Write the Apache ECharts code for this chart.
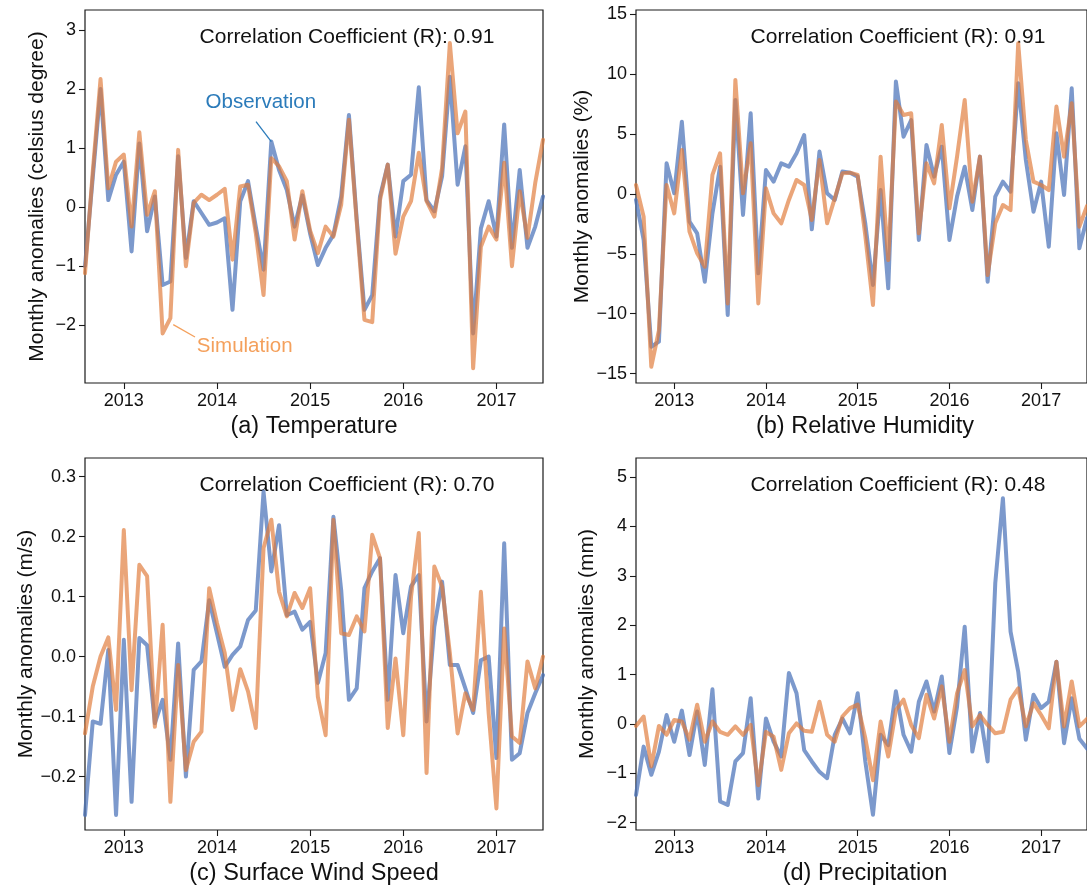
<!DOCTYPE html>
<html>
<head>
<meta charset="utf-8">
<title>Monthly anomalies: observation vs simulation</title>
<script src="https://cdn.jsdelivr.net/npm/echarts@6/dist/echarts.min.js"></script>
<style>
  html, body { margin: 0; padding: 0; background: #fff; }
  #chart { width: 1087px; height: 891px; }
</style>
</head>
<body>
<div id="chart"></div>
<script>
// Monthly time steps, Aug 2012 – Jul 2017
const months = [
  '2012-08','2012-09','2012-10','2012-11','2012-12',
  '2013-01','2013-02','2013-03','2013-04','2013-05','2013-06','2013-07','2013-08','2013-09','2013-10','2013-11','2013-12',
  '2014-01','2014-02','2014-03','2014-04','2014-05','2014-06','2014-07','2014-08','2014-09','2014-10','2014-11','2014-12',
  '2015-01','2015-02','2015-03','2015-04','2015-05','2015-06','2015-07','2015-08','2015-09','2015-10','2015-11','2015-12',
  '2016-01','2016-02','2016-03','2016-04','2016-05','2016-06','2016-07','2016-08','2016-09','2016-10','2016-11','2016-12',
  '2017-01','2017-02','2017-03','2017-04','2017-05','2017-06','2017-07'
];

// (a) Temperature anomalies, °C
const tempObs = [-1.0, 0.5, 2.0, 0.12, 0.55, 0.77, -0.75, 1.08, -0.41, 0.18, -1.32, -1.26, 0.86, -0.86, 0.10, -0.10, -0.30, -0.26, -0.19, -1.74, 0.10, 0.44, -0.33, -1.06, 1.11, 0.63, 0.29, -0.33, 0.20, -0.45, -0.98, -0.69, -0.47, 0.18, 1.56, -0.20, -1.74, -1.49, 0.18, 0.72, -0.50, 0.44, 0.55, 2.03, 0.12, -0.07, 0.52, 2.21, 0.38, 1.03, -2.14, -0.36, 0.10, -0.50, 1.40, -0.69, 0.63, -0.69, -0.33, 0.18];
const tempSim = [-1.12, 0.6, 2.17, 0.32, 0.77, 0.89, -0.33, 1.27, -0.13, 0.27, -2.14, -1.88, 0.97, -1.0, 0.07, 0.21, 0.12, 0.21, 0.31, -0.89, 0.35, 0.38, -0.44, -1.49, 0.83, 0.69, 0.44, -0.55, 0.27, -0.40, -0.78, -0.33, -0.50, 0.04, 1.48, -0.25, -1.91, -1.95, 0.12, 0.72, -0.79, -0.16, 0.10, 0.92, 0.10, -0.16, 0.66, 2.78, 1.25, 1.62, -2.73, -0.67, -0.33, -0.55, 0.75, -1.0, 0.27, -0.52, 0.41, 1.14];

// (b) Relative humidity anomalies, %
const humObs = [-0.5, -3.84, -12.76, -12.34, 2.56, 0.06, 6.04, -2.31, -3.29, -7.33, -1.62, 2.28, -10.11, 7.86, -1.75, 6.74, -6.63, 2.0, 1.03, 2.56, 2.28, 3.40, 4.93, -2.95, 3.54, 0.06, -0.5, 1.87, 1.78, 1.45, -2.5, -7.60, 0.33, -7.88, 9.39, 4.79, 6.18, -3.84, 4.09, 1.45, 3.96, -3.84, -0.22, 2.28, -1.34, 3.12, -7.33, -0.22, 1.03, 0.19, 9.25, 2.84, -1.48, 1.03, -4.40, 5.07, -0.08, 8.83, -4.54, -2.0];
const humSim = [0.75, -1.89, -14.43, -11.4, 0.75, -1.62, 3.68, -3.15, -4.96, -6.07, 1.59, 3.40, -9.14, 9.53, 0.06, 4.23, -9.14, 0.47, -1.62, -2.45, -0.5, 1.17, 0.75, -2.17, 2.84, -2.45, -0.36, 1.73, 1.78, 1.59, -3.5, -9.28, 3.12, -5.52, 7.72, 6.60, 6.74, -3.29, 2.56, 0.89, 5.77, -1.20, 3.12, 7.86, -0.64, 3.12, -6.77, -2.45, -0.92, -1.34, 12.59, 4.51, 1.03, 0.75, 0.33, 7.30, 3.12, 7.58, -2.73, -1.0];

// (c) Surface wind speed anomalies, m/s
const windObs = [-0.264, -0.108, -0.112, 0.011, -0.264, 0.028, -0.242, 0.031, 0.019, -0.111, -0.072, -0.172, 0.022, -0.2, -0.022, -0.008, 0.094, 0.039, -0.017, 0.003, 0.017, 0.061, 0.077, 0.275, 0.142, 0.219, 0.069, 0.075, 0.045, 0.058, -0.044, 0.006, 0.233, 0.111, -0.072, -0.053, 0.114, 0.142, 0.164, -0.072, 0.136, 0.039, 0.117, 0.136, -0.108, 0.05, 0.125, -0.014, -0.014, -0.053, -0.094, -0.006, 0.0, -0.169, 0.189, -0.172, -0.161, -0.094, -0.061, -0.031];
const windSim = [-0.128, -0.05, 0.0, 0.032, -0.089, 0.211, -0.056, 0.153, 0.134, -0.117, 0.053, -0.242, -0.014, -0.189, -0.142, -0.125, 0.114, 0.056, 0.006, -0.089, -0.021, -0.058, -0.119, 0.181, 0.228, 0.108, 0.067, 0.106, 0.081, 0.114, -0.067, -0.131, 0.228, 0.039, 0.036, 0.067, 0.042, 0.203, 0.164, -0.119, -0.003, -0.131, 0.1, 0.206, -0.194, 0.15, 0.117, 0.006, -0.128, -0.061, -0.089, 0.108, -0.094, -0.253, 0.047, -0.133, -0.144, -0.008, -0.053, 0.0];

// (d) Precipitation anomalies, mm
const precObs = [-1.44, -0.46, -1.03, -0.56, 0.18, -0.36, 0.27, -0.63, 0.25, -0.83, 0.70, -1.57, -1.64, -0.76, -0.59, 0.52, -1.51, 0.11, -0.36, -0.66, 1.03, 0.62, -0.53, -0.76, -0.97, -1.10, -0.22, 0.11, -0.19, 0.62, -0.76, -1.84, -0.22, -0.43, 0.66, -0.22, -0.56, 0.45, 0.86, 0.25, 0.96, -0.59, 0.35, 1.97, -0.56, 0.22, -0.76, 2.85, 4.57, 1.87, 1.06, -0.32, 0.59, 0.32, 0.45, 1.26, -0.39, 0.52, -0.3, -0.5];
const precSim = [-0.04, 0.15, -0.86, -0.04, -0.22, 0.08, 0.05, -0.32, 0.39, -0.36, 0.05, -0.16, -0.22, -0.05, -0.22, -0.02, -1.24, -0.16, -0.26, -0.93, -0.19, 0.01, -0.14, -0.16, 0.45, -0.22, -0.36, 0.15, 0.32, 0.39, -0.29, -1.14, 0.05, -0.66, 0.28, 0.49, -0.02, -0.29, 0.59, 0.11, 0.76, -0.36, 0.62, 1.09, -0.05, 0.18, -0.02, -0.19, -0.16, 0.49, 0.72, -0.05, 0.42, 0.18, -0.09, 1.26, -0.05, 0.86, -0.05, 0.1];

// Tick values per panel
const tempTicks = [-2, -1, 0, 1, 2, 3];
const humTicks  = [-15, -10, -5, 0, 5, 10, 15];
const windTicks = [-0.2, -0.1, 0.0, 0.1, 0.2, 0.3];
const precTicks = [-2, -1, 0, 1, 2, 3, 4, 5];

// Correlation coefficients and panel captions
const corrR   = ['0.91', '0.91', '0.70', '0.48'];
const titles  = ['(a) Temperature', '(b) Relative Humidity', '(c) Surface Wind Speed', '(d) Precipitation'];
const yNames  = ['Monthly anomalies (celsius degree)', 'Monthly anomalies (%)', 'Monthly anomalies (m/s)', 'Monthly anomalies (mm)'];

// ---- layout and styling ----
const FONT = "'Liberation Sans', Arial, Helvetica, sans-serif";
const OBS_COLOR = '#4a72b8';
const SIM_COLOR = '#e07b39';
const layout = [
  { left: 85,  top: 10,  width: 458, height: 373, yMin: -2.98,  yMax: 3.34,  dec: 0, nameGap: 37 },
  { left: 636, top: 10,  width: 458, height: 373, yMin: -15.79, yMax: 15.37, dec: 0, nameGap: 42 },
  { left: 85,  top: 458, width: 458, height: 372, yMin: -0.289, yMax: 0.331, dec: 1, nameGap: 37 },
  { left: 636, top: 458, width: 458, height: 372, yMin: -2.148, yMax: 5.385, dec: 0, nameGap: 38 }
];
const seriesPairs = [[tempObs, tempSim], [humObs, humSim], [windObs, windSim], [precObs, precSim]];
const tickSets = [tempTicks, humTicks, windTicks, precTicks];

const isJanuary = (idx, val) => String(val).endsWith('-01');
const fmtTick = dec => v => (v < 0 ? '\u2212' : '') + Math.abs(v).toFixed(dec);

const chart = echarts.init(document.getElementById('chart'), null, { renderer: 'canvas' });

const grids = [], xAxes = [], yAxes = [], series = [];
layout.forEach((L, k) => {
  grids.push({
    left: L.left, top: L.top, width: L.width, height: L.height,
    show: true, borderColor: '#1a1a1a', borderWidth: 1.2, backgroundColor: 'transparent'
  });
  xAxes.push({
    type: 'category', gridIndex: k, data: months, boundaryGap: false,
    axisLine: { show: false, onZero: false },
    axisTick: { show: true, inside: false, length: 6, interval: isJanuary, lineStyle: { color: '#1a1a1a', width: 1.1 } },
    axisLabel: {
      interval: isJanuary, margin: 9, fontFamily: FONT, fontSize: 18, color: '#111',
      formatter: v => v.slice(0, 4)
    },
    splitLine: { show: false }
  });
  yAxes.push({
    type: 'value', gridIndex: k, min: L.yMin, max: L.yMax,
    name: yNames[k], nameLocation: 'middle', nameGap: L.nameGap,
    nameTextStyle: { fontFamily: FONT, fontSize: 21, color: '#111' },
    axisLine: { show: false },
    axisTick: { show: true, length: 6, customValues: tickSets[k], lineStyle: { color: '#1a1a1a', width: 1.1 } },
    axisLabel: {
      customValues: tickSets[k], margin: 9, fontFamily: FONT, fontSize: 18, color: '#111',
      formatter: fmtTick(L.dec)
    },
    splitLine: { show: false }
  });
  const [obs, sim] = seriesPairs[k];
  series.push({
    name: 'Observation', type: 'line', xAxisIndex: k, yAxisIndex: k, data: obs,
    symbol: 'none', smooth: false, clip: true,
    lineStyle: { color: OBS_COLOR, width: 4, opacity: 0.72, join: 'round', cap: 'round' },
    itemStyle: { color: OBS_COLOR }, z: 2, animation: false
  });
  series.push({
    name: 'Simulation', type: 'line', xAxisIndex: k, yAxisIndex: k, data: sim,
    symbol: 'none', smooth: false, clip: true,
    lineStyle: { color: SIM_COLOR, width: 4, opacity: 0.68, join: 'round', cap: 'round' },
    itemStyle: { color: SIM_COLOR }, z: 3, animation: false
  });
});

chart.setOption({
  backgroundColor: '#ffffff',
  animation: false,
  grid: grids,
  xAxis: xAxes,
  yAxis: yAxes,
  series: series
});

// Pixel position of a (fractional month index, value) pair in panel g
function toPx(g, i, v) {
  const i0 = Math.max(0, Math.min(months.length - 1, Math.floor(i)));
  const i1 = Math.min(months.length - 1, i0 + 1);
  const a = chart.convertToPixel({ gridIndex: g }, [months[i0], v]);
  const b = chart.convertToPixel({ gridIndex: g }, [months[i1], v]);
  const t = i - i0;
  return [a[0] + (b[0] - a[0]) * t, a[1]];
}

const graphics = [];
layout.forEach((L, k) => {
  // correlation coefficient annotation
  graphics.push({
    type: 'text', x: L.left + 262, y: L.top + 27, silent: true,
    style: {
      text: 'Correlation Coefficient (R): ' + corrR[k], fill: '#111',
      font: '21px ' + FONT, textAlign: 'center', textVerticalAlign: 'middle'
    }
  });
  // panel caption below the x axis
  graphics.push({
    type: 'text', x: L.left + L.width / 2, y: L.top + L.height + 44, silent: true,
    style: {
      text: titles[k], fill: '#111',
      font: '23.5px ' + FONT, textAlign: 'center', textVerticalAlign: 'middle'
    }
  });
});

// Series labels with leader lines in the temperature panel
const obsLabel = toPx(0, 22.65, 1.77);
const obsFrom = toPx(0, 22.03, 1.45);
const obsTo = toPx(0, 24, tempObs[24]);
const simLabel = toPx(0, 20.57, -2.36);
const simFrom = toPx(0, 11.37, -1.99);
const simTo = toPx(0, 14.17, -2.20);

graphics.push(
  {
    type: 'text', x: obsLabel[0], y: obsLabel[1], silent: true, z: 10,
    style: { text: 'Observation', fill: '#2b7bba', font: '20.5px ' + FONT, textAlign: 'center', textVerticalAlign: 'middle' }
  },
  {
    type: 'line', silent: true, z: 10,
    shape: { x1: obsFrom[0], y1: obsFrom[1], x2: obsTo[0], y2: obsTo[1] },
    style: { stroke: '#2b7bba', lineWidth: 1.3 }
  },
  {
    type: 'text', x: simLabel[0], y: simLabel[1], silent: true, z: 10,
    style: { text: 'Simulation', fill: '#f4a05c', font: '20.5px ' + FONT, textAlign: 'center', textVerticalAlign: 'middle' }
  },
  {
    type: 'line', silent: true, z: 10,
    shape: { x1: simFrom[0], y1: simFrom[1], x2: simTo[0], y2: simTo[1] },
    style: { stroke: '#f4a05c', lineWidth: 1.3 }
  }
);

chart.setOption({ graphic: graphics });
</script>
</body>
</html>
